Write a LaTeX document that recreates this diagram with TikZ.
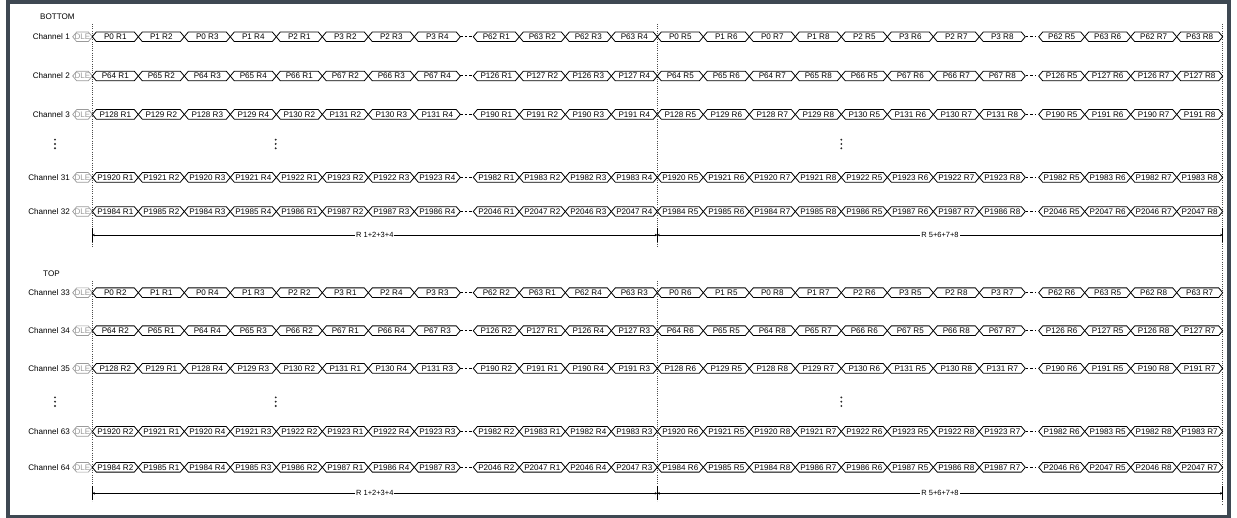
\documentclass[tikz,border=0pt]{standalone}
\usepackage{fontspec}
\setmainfont{Liberation Sans}
\usetikzlibrary{arrows.meta}
\definecolor{framecol}{HTML}{3E4852}
\definecolor{dlegray}{HTML}{9A9A9A}
\tikzset{
 cellline/.style={draw=black, line width=0.8pt, fill=white, line join=miter},
 celltext/.style={font=\fontsize{8.1}{9}\selectfont, inner sep=0pt, text=black},
 dleline/.style={draw=dlegray, line width=0.7pt, fill=white},
 dletext/.style={font=\fontsize{8.1}{9}\selectfont, inner sep=0pt, text=black!40},
 chlabel/.style={font=\fontsize{8.1}{9}\selectfont, inner sep=0pt, anchor=east},
 grouplabel/.style={font=\fontsize{8.1}{9}\selectfont, inner sep=0pt, anchor=west},
 gapdash/.style={draw=black, line width=1pt, dash pattern=on 2.5pt off 2pt},
 guide/.style={draw=black!70, line width=0.6pt, dash pattern=on 0.8pt off 1.4pt},
 measline/.style={draw=black, line width=0.7pt, arrows={Stealth[length=2.5pt,width=2.5pt]-Stealth[length=2.5pt,width=2.5pt]}},
 measlabel/.style={font=\fontsize{7.5}{8}\selectfont, fill=white, inner sep=1pt},
 tickline/.style={draw=black, line width=1pt},
 vdot/.style={fill=black!85},
}
% #1 id, #2 start x, #3 y, #4 list of texts
\newcommand\wavecells[4]{%
  \foreach \t [count=\i from 0] in {#4} {
    \pgfmathsetmacro\xa{#2+46*\i}
    \pgfmathsetmacro\xb{\xa+46}
    \draw[cellline] (\xa,#3) -- (\xa+4,#3-4.8) -- (\xb-4,#3-4.8) -- (\xb,#3) -- (\xb-4,#3+4.8) -- (\xa+4,#3+4.8) -- cycle;
    \node[celltext] (c#1-\i) at ({(\xa+\xb)/2},#3) {\t};
  }}
% #1 id, #2 y, #3 label, #4 L8, #5 L4, #6 R8, #7 R4
\newcommand\chrow[7]{%
  \node[chlabel] (lab#1) at (70,#2) {#3};
  \draw[dleline] (72.7,#2) -- (76.7,#2-4.8) -- (88.3,#2-4.8) -- (92.3,#2) -- (88.3,#2+4.8) -- (76.7,#2+4.8) -- cycle;
  \node[dletext] (dle#1) at (82.5,#2) {DLE};
  \wavecells{#1a}{92.3}{#2}{#4}
  \wavecells{#1b}{473.3}{#2}{#5}
  \wavecells{#1c}{657.3}{#2}{#6}
  \wavecells{#1d}{1038.7}{#2}{#7}
  \draw[gapdash] (460.3,#2) -- (473.3,#2);
  \draw[gapdash] (1025.8,#2) -- (1035,#2);
}
\newcommand\threedots[2]{%
  \fill[vdot] (#1,#2-4.3) circle (1.05);
  \fill[vdot] (#1,#2) circle (1.05);
  \fill[vdot] (#1,#2+4.3) circle (1.05);
}
\begin{document}
\begin{tikzpicture}[x=1pt,y=-1pt]
\useasboundingbox (0,0) rectangle (1237,518);
\fill[white] (0,0) rectangle (1237,518);
\draw[framecol, line width=4pt] (7.6,2) rectangle (1228.5,516.5);

% guides
\draw[guide] (92.3,24) -- (92.3,247);
\draw[guide] (657.3,24) -- (657.3,247);
\draw[guide] (92.3,281) -- (92.3,501);
\draw[guide] (657.3,281) -- (657.3,501);
\draw[guide] (1222.7,24) -- (1222.7,505);

\node[grouplabel] (bottom) at (40,16.7) {BOTTOM};
\node[grouplabel] (top) at (43,273.3) {TOP};

\chrow{r1}{36.8}{Channel 1}
 {P0 R1,P1 R2,P0 R3,P1 R4,P2 R1,P3 R2,P2 R3,P3 R4}
 {P62 R1,P63 R2,P62 R3,P63 R4}
 {P0 R5,P1 R6,P0 R7,P1 R8,P2 R5,P3 R6,P2 R7,P3 R8}
 {P62 R5,P63 R6,P62 R7,P63 R8}
\chrow{r2}{76}{Channel 2}
 {P64 R1,P65 R2,P64 R3,P65 R4,P66 R1,P67 R2,P66 R3,P67 R4}
 {P126 R1,P127 R2,P126 R3,P127 R4}
 {P64 R5,P65 R6,P64 R7,P65 R8,P66 R5,P67 R6,P66 R7,P67 R8}
 {P126 R5,P127 R6,P126 R7,P127 R8}
\chrow{r3}{114.4}{Channel 3}
 {P128 R1,P129 R2,P128 R3,P129 R4,P130 R2,P131 R2,P130 R3,P131 R4}
 {P190 R1,P191 R2,P190 R3,P191 R4}
 {P128 R5,P129 R6,P128 R7,P129 R8,P130 R5,P131 R6,P130 R7,P131 R8}
 {P190 R5,P191 R6,P190 R7,P191 R8}
\chrow{r31}{177.4}{Channel 31}
 {P1920 R1,P1921 R2,P1920 R3,P1921 R4,P1922 R1,P1923 R2,P1922 R3,P1923 R4}
 {P1982 R1,P1983 R2,P1982 R3,P1983 R4}
 {P1920 R5,P1921 R6,P1920 R7,P1921 R8,P1922 R5,P1923 R6,P1922 R7,P1923 R8}
 {P1982 R5,P1983 R6,P1982 R7,P1983 R8}
\chrow{r32}{211.5}{Channel 32}
 {P1984 R1,P1985 R2,P1984 R3,P1985 R4,P1986 R1,P1987 R2,P1987 R3,P1986 R4}
 {P2046 R1,P2047 R2,P2046 R3,P2047 R4}
 {P1984 R5,P1985 R6,P1984 R7,P1985 R8,P1986 R5,P1987 R6,P1987 R7,P1986 R8}
 {P2046 R5,P2047 R6,P2046 R7,P2047 R8}

\chrow{r33}{292.7}{Channel 33}
 {P0 R2,P1 R1,P0 R4,P1 R3,P2 R2,P3 R1,P2 R4,P3 R3}
 {P62 R2,P63 R1,P62 R4,P63 R3}
 {P0 R6,P1 R5,P0 R8,P1 R7,P2 R6,P3 R5,P2 R8,P3 R7}
 {P62 R6,P63 R5,P62 R8,P63 R7}
\chrow{r34}{330.7}{Channel 34}
 {P64 R2,P65 R1,P64 R4,P65 R3,P66 R2,P67 R1,P66 R4,P67 R3}
 {P126 R2,P127 R1,P126 R4,P127 R3}
 {P64 R6,P65 R5,P64 R8,P65 R7,P66 R6,P67 R5,P66 R8,P67 R7}
 {P126 R6,P127 R5,P126 R8,P127 R7}
\chrow{r35}{368.4}{Channel 35}
 {P128 R2,P129 R1,P128 R4,P129 R3,P130 R2,P131 R1,P130 R4,P131 R3}
 {P190 R2,P191 R1,P190 R4,P191 R3}
 {P128 R6,P129 R5,P128 R8,P129 R7,P130 R6,P131 R5,P130 R8,P131 R7}
 {P190 R6,P191 R5,P190 R8,P191 R7}
\chrow{r63}{431.4}{Channel 63}
 {P1920 R2,P1921 R1,P1920 R4,P1921 R3,P1922 R2,P1923 R1,P1922 R4,P1923 R3}
 {P1982 R2,P1983 R1,P1982 R4,P1983 R3}
 {P1920 R6,P1921 R5,P1920 R8,P1921 R7,P1922 R6,P1923 R5,P1922 R8,P1923 R7}
 {P1982 R6,P1983 R5,P1982 R8,P1983 R7}
\chrow{r64}{467.3}{Channel 64}
 {P1984 R2,P1985 R1,P1984 R4,P1985 R3,P1986 R2,P1987 R1,P1986 R4,P1987 R3}
 {P2046 R2,P2047 R1,P2046 R4,P2047 R3}
 {P1984 R6,P1985 R5,P1984 R8,P1986 R7,P1986 R6,P1987 R5,P1986 R8,P1987 R7}
 {P2046 R6,P2047 R5,P2046 R8,P2047 R7}

% vertical ellipsis
\threedots{55}{144}
\threedots{275.7}{144}
\threedots{841.3}{144}
\threedots{55}{401.7}
\threedots{275.7}{401.7}
\threedots{841.3}{401.7}

% measurement arrows
\coordinate (a0) at (92.3,235);
\coordinate (a1) at (657.3,235);
\coordinate (a2) at (1222.7,235);
\draw[measline] (a0) -- node[measlabel] (m1) {R 1+2+3+4} (a1);
\draw[measline] (a1) -- node[measlabel] (m2) {R 5+6+7+8} (a2);
\foreach \c in {a0,a1,a2} \draw[tickline] ([yshift=7pt]\c) -- ([yshift=-7pt]\c);
\coordinate (b0) at (92.3,493.3);
\coordinate (b1) at (657.3,493.3);
\coordinate (b2) at (1222.7,493.3);
\draw[measline] (b0) -- node[measlabel] (m3) {R 1+2+3+4} (b1);
\draw[measline] (b1) -- node[measlabel] (m4) {R 5+6+7+8} (b2);
\foreach \c in {b0,b1,b2} \draw[tickline] ([yshift=7pt]\c) -- ([yshift=-7pt]\c);
\end{tikzpicture}
\end{document}
